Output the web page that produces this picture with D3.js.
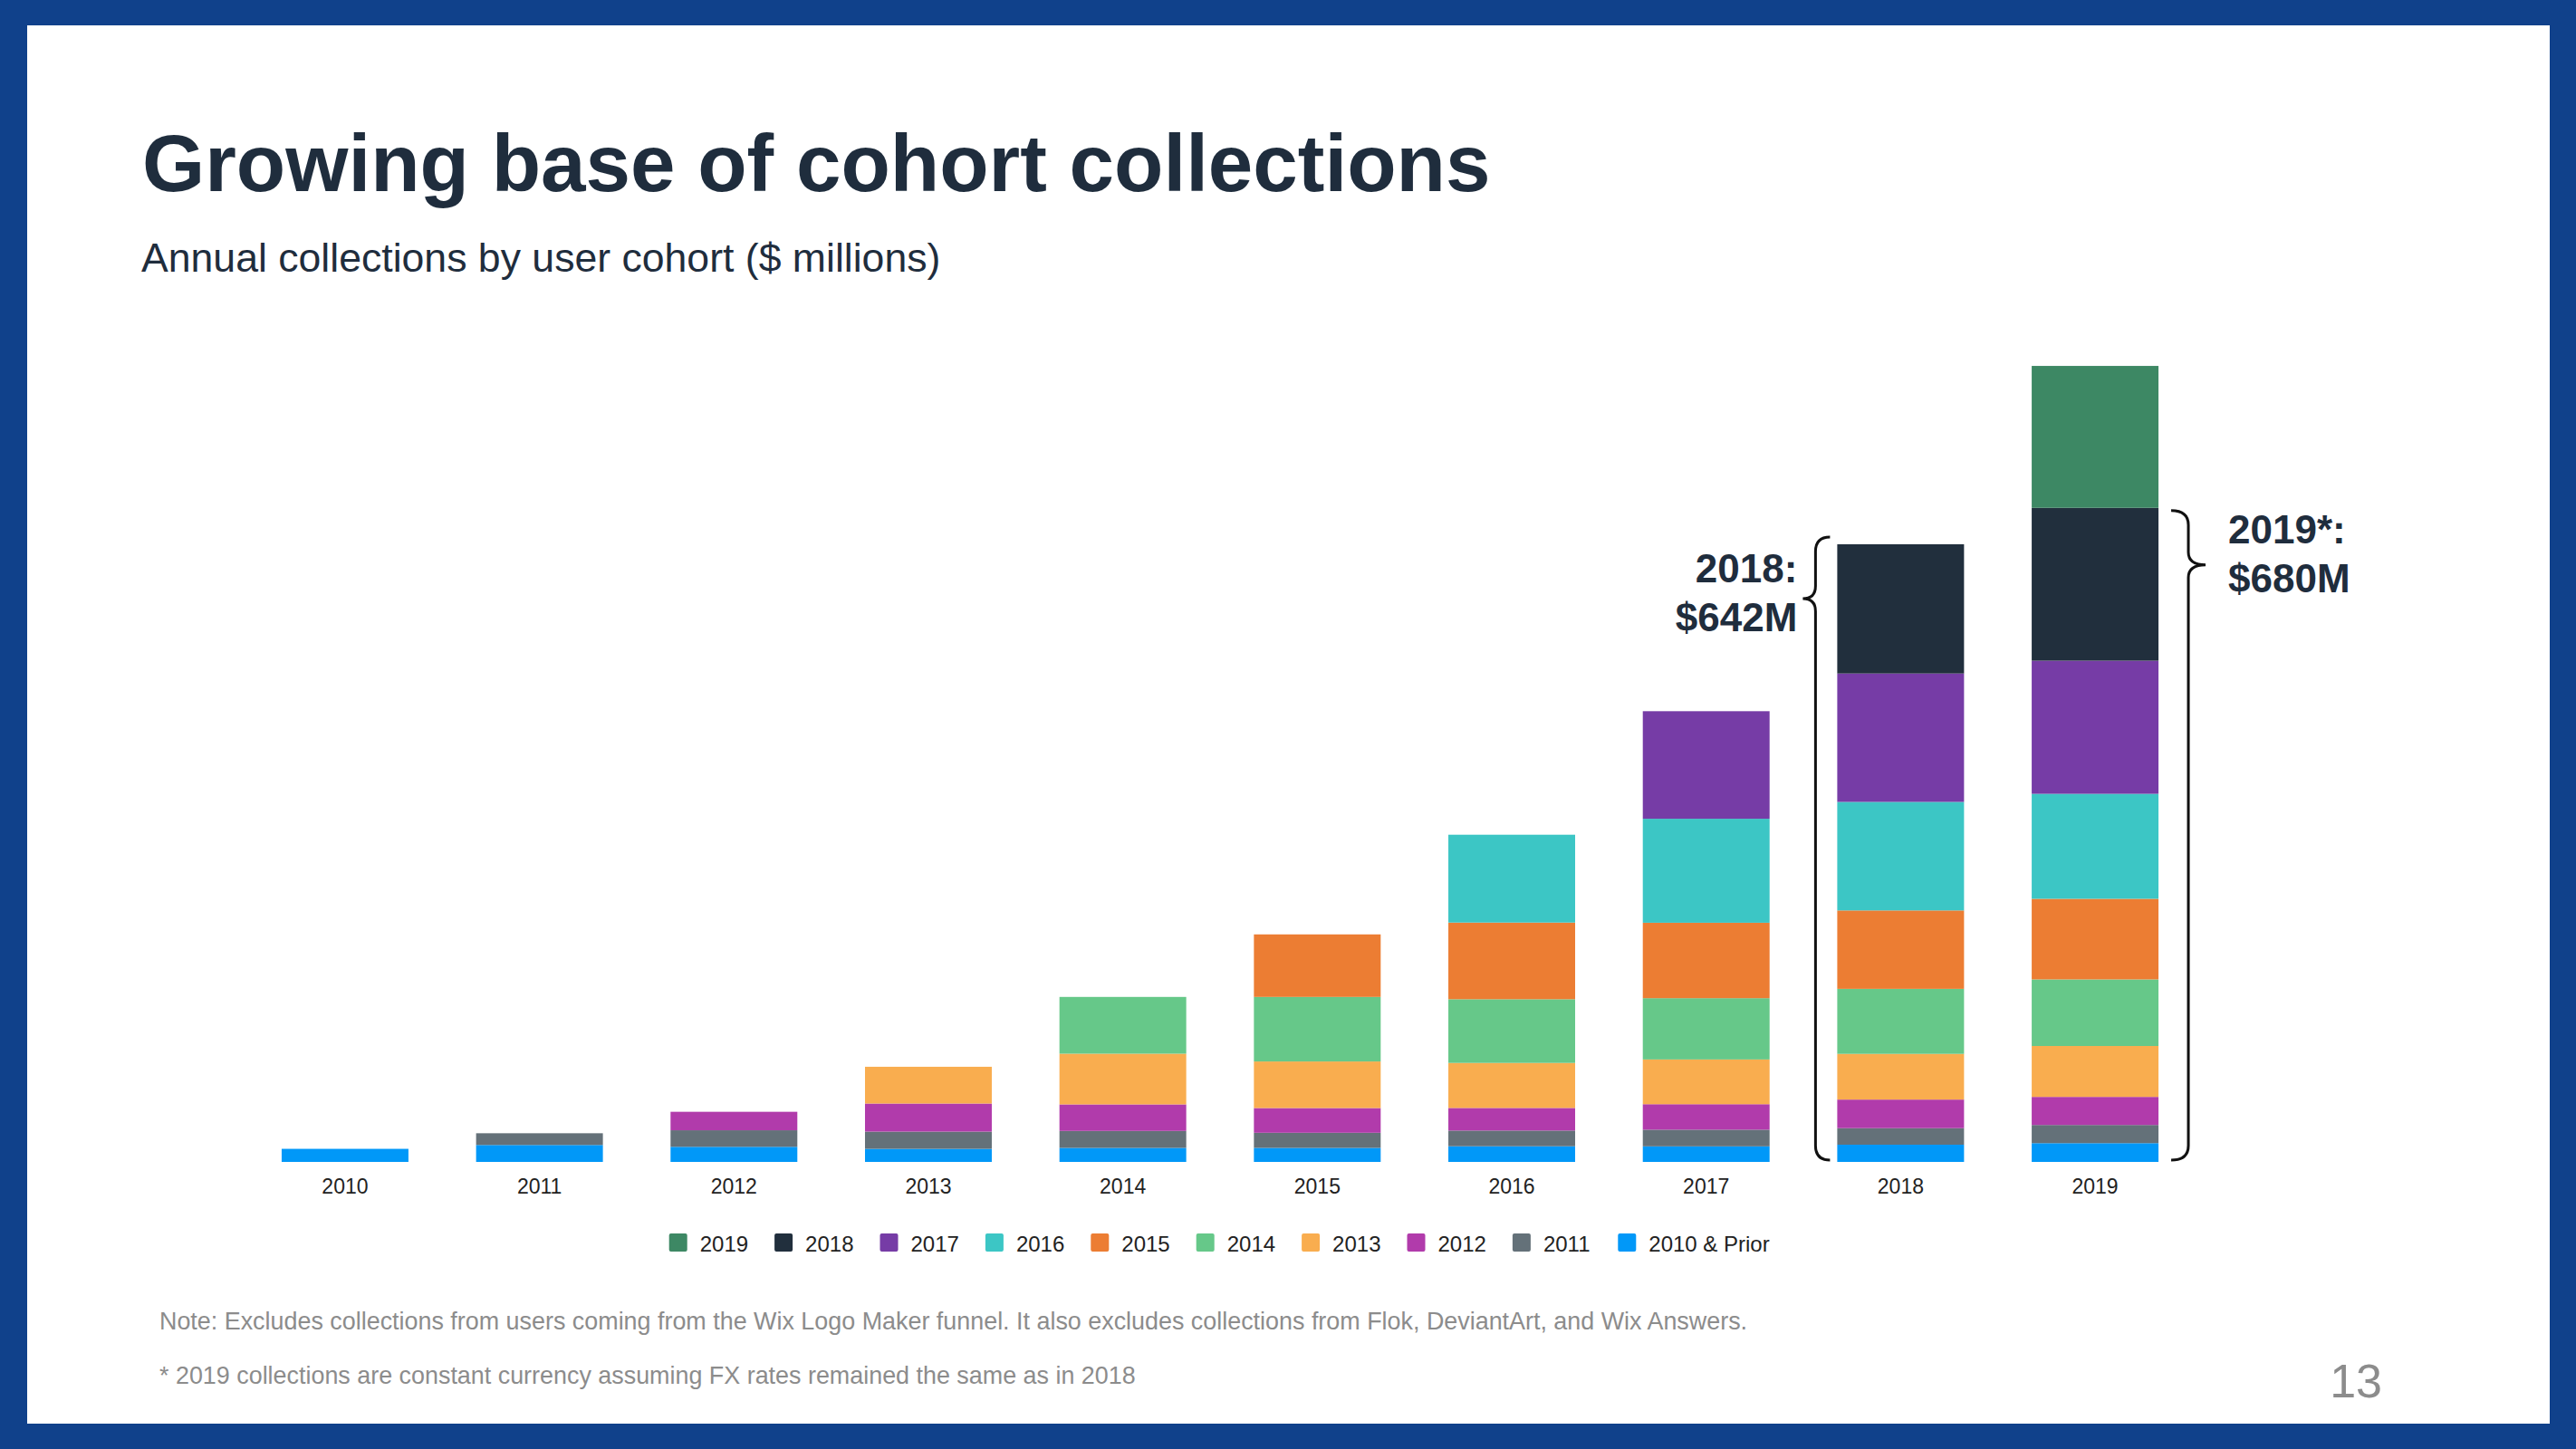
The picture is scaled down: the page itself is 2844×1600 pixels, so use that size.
<!DOCTYPE html>
<html>
<head>
<meta charset="utf-8">
<script src="https://cdn.jsdelivr.net/npm/d3@7"></script>
<style>
  html, body { margin: 0; padding: 0; background: #ffffff; }
  svg { display: block; }
</style>
</head>
<body>
<svg id="chart" width="2844" height="1600"></svg>
<script>
// ---------- DATA ----------
const years = ["2010", "2011", "2012", "2013", "2014", "2015", "2016", "2017", "2018", "2019"];
// cohort series, bottom to top ($ millions)
const cohorts = ["2010 & Prior", "2011", "2012", "2013", "2014", "2015", "2016", "2017", "2018", "2019"];
const cohort2010 = [13.6, 17.6, 15.7, 13.6, 14.6, 14.6, 16.3, 16.2, 17.9, 19.5];
const cohort2011 = [0, 12.2, 17.2, 17.9, 17.6, 15.7, 16.3, 17.3, 17.2, 18.9];
const cohort2012 = [0, 0, 19.2, 29.2, 27.6, 25.7, 23.5, 26.5, 29.7, 29.2];
const cohort2013 = [0, 0, 0, 38.2, 52.7, 48.4, 46.8, 46.5, 47.5, 52.9];
const cohort2014 = [0, 0, 0, 0, 59.0, 67.1, 66.2, 63.7, 67.6, 69.2];
const cohort2015 = [0, 0, 0, 0, 0, 65.0, 79.7, 78.4, 81.5, 83.8];
const cohort2016 = [0, 0, 0, 0, 0, 0, 91.3, 108.1, 112.8, 109.1];
const cohort2017 = [0, 0, 0, 0, 0, 0, 0, 111.8, 133.5, 138.4];
const cohort2018 = [0, 0, 0, 0, 0, 0, 0, 0, 134.3, 158.9];
const cohort2019 = [0, 0, 0, 0, 0, 0, 0, 0, 0, 147.5];
const cohortColors = ["#0198F8", "#647179", "#B13BAB", "#F9AD4F", "#66C889", "#EC7D33", "#3CC6C5", "#763CA6", "#212F3D", "#3D8864"];
const legendOrder = ["2019", "2018", "2017", "2016", "2015", "2014", "2013", "2012", "2011", "2010 & Prior"];
const annotations = [
  { year: "2018", lines: ["2018:", "$642M"], total: 642, side: "left" },
  { year: "2019", lines: ["2019*:", "$680M"], total: 680, side: "right" }
];
const titleText = "Growing base of cohort collections";
const subtitleText = "Annual collections by user cohort ($ millions)";
const noteText = "Note: Excludes collections from users coming from the Wix Logo Maker funnel. It also excludes collections from Flok, DeviantArt, and Wix Answers.";
const footText = "* 2019 collections are constant currency assuming FX rates remained the same as in 2018";
const pageNumber = "13";

// ---------- BUILD TABLE ----------
const seriesArrays = [cohort2010, cohort2011, cohort2012, cohort2013, cohort2014, cohort2015, cohort2016, cohort2017, cohort2018, cohort2019];
const table = years.map((y, i) => {
  const row = { year: y };
  cohorts.forEach((c, k) => { row[c] = seriesArrays[k][i]; });
  return row;
});
const stack = d3.stack().keys(cohorts)(table);
const color = d3.scaleOrdinal().domain(cohorts).range(cohortColors);

// ---------- LAYOUT ----------
const W = 2844, H = 1600;
const svg = d3.select("#chart");
const FONT = "'Liberation Sans', Arial, Helvetica, sans-serif";
const border = "#10418B";

// frame
svg.append("rect").attr("x", 0).attr("y", 0).attr("width", W).attr("height", H).attr("fill", border);
svg.append("rect").attr("x", 30).attr("y", 28).attr("width", W - 30 - 29).attr("height", H - 28 - 28).attr("fill", "#ffffff");

// title
svg.append("text").attr("x", 157).attr("y", 211).attr("font-family", FONT)
  .attr("font-size", 89).attr("font-weight", "bold").attr("fill", "#1F2D3D")
  .text(titleText);
svg.append("text").attr("x", 156).attr("y", 300).attr("font-family", FONT)
  .attr("font-size", 44.6).attr("fill", "#1F2D3D").text(subtitleText);

// scales
const baseY = 1283;
const x = d3.scaleBand().domain(years).range([273.6, 2420.4]).paddingInner(0.348).paddingOuter(0.174);
const y = d3.scaleLinear().domain([0, 680]).range([baseY, baseY - 680 * 1.0623]);

// bars
const g = svg.append("g");
g.selectAll("g.layer").data(stack).join("g").attr("class", "layer")
  .attr("fill", d => color(d.key))
  .selectAll("rect").data(d => d.filter(p => p[1] - p[0] > 0)).join("rect")
  .attr("x", d => x(d.data.year))
  .attr("width", x.bandwidth())
  .attr("y", d => y(d[1]))
  .attr("height", d => y(d[0]) - y(d[1]));

// x axis (labels only)
const xAxis = d3.axisBottom(x).tickSize(0).tickPadding(0);
const ax = svg.append("g").attr("transform", `translate(0, ${baseY})`).call(xAxis);
ax.select(".domain").remove();
ax.selectAll("text").attr("font-family", FONT).attr("font-size", 23).attr("fill", "#222")
  .attr("dy", 0).attr("y", 35);

// legend
const legX = d3.scalePoint().domain(legendOrder).range([738.7, 738.7 + 9 * 116.4]);
const leg = svg.append("g").selectAll("g").data(legendOrder).join("g")
  .attr("transform", d => `translate(${legX(d)}, 1362)`);
leg.append("rect").attr("width", 20).attr("height", 20).attr("rx", 2)
  .attr("fill", d => color(d));
leg.append("text").attr("x", 34).attr("y", 19.5).attr("font-family", FONT)
  .attr("font-size", 24).attr("fill", "#222").text(d => d);

// braces + annotation labels
function bracePath(xv, y0, yt, y1, dir, hook, tip) {
  // dir = -1: "{" (tip points left); dir = +1: "}" (tip points right)
  const h = -dir * hook;
  const r = 16, r2 = 14;
  return `M${xv + h},${y0} Q${xv},${y0} ${xv},${y0 + r} L${xv},${yt - r2} ` +
         `Q${xv},${yt} ${xv + dir * tip},${yt} Q${xv},${yt} ${xv},${yt + r2} ` +
         `L${xv},${y1 - r} Q${xv},${y1} ${xv + h},${y1}`;
}
annotations.forEach(a => {
  const bx = x(a.year);
  let xv, y0, yt, tx, anchor;
  if (a.side === "left") {
    xv = bx - 24; y0 = y(a.total) - 8; yt = y0 + 68; tx = xv - 20; anchor = "end";
    svg.append("path").attr("d", bracePath(xv, y0, yt, baseY - 2, -1, 16, 14))
      .attr("fill", "none").attr("stroke", "#111").attr("stroke-width", 3);
    a.lines.forEach((l, i) => svg.append("text").attr("x", tx).attr("y", 643 + i * 54)
      .attr("text-anchor", anchor).attr("font-family", FONT).attr("font-size", 44)
      .attr("font-weight", "bold").attr("fill", "#1F2D3D").text(l));
  } else {
    xv = bx + x.bandwidth() + 33; y0 = y(a.total) + 3; yt = y0 + 60; tx = xv + 44; anchor = "start";
    svg.append("path").attr("d", bracePath(xv, y0, yt, baseY - 2, 1, 19, 19))
      .attr("fill", "none").attr("stroke", "#111").attr("stroke-width", 3);
    a.lines.forEach((l, i) => svg.append("text").attr("x", tx).attr("y", 600 + i * 54)
      .attr("text-anchor", anchor).attr("font-family", FONT).attr("font-size", 44)
      .attr("font-weight", "bold").attr("fill", "#1F2D3D").text(l));
  }
});

// footnotes
svg.append("text").attr("x", 176).attr("y", 1468).attr("font-family", FONT)
  .attr("font-size", 26.9).attr("fill", "#8C8C8C").text(noteText);
svg.append("text").attr("x", 176).attr("y", 1528).attr("font-family", FONT)
  .attr("font-size", 26.9).attr("fill", "#8C8C8C").text(footText);
svg.append("text").attr("x", 2630).attr("y", 1543).attr("text-anchor", "end").attr("font-family", FONT)
  .attr("font-size", 52).attr("font-weight", 300).attr("fill", "#8C8C8C").text(pageNumber);
</script>
</body>
</html>
